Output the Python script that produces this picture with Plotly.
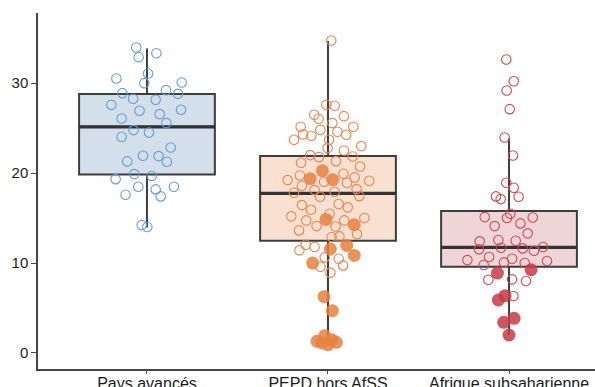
import plotly.graph_objects as go

categories = ["Pays avancés", "PEPD hors AfSS", "Afrique subsaharienne"]

# box statistics
q1 = [19.85, 12.48, 9.6]
median = [25.15, 17.74, 11.74]
q3 = [28.8, 21.9, 15.8]
lowerfence = [13.96, 1.07, 2.0]
upperfence = [33.85, 34.7, 23.85]

# hollow points (values) and their horizontal jitter (category units)
pa_vals = [33.96, 33.33, 32.89, 31.07, 30.52, 30.0, 30.07, 29.22, 28.89, 28.81, 28.26, 28.15,
           27.59, 26.93, 27.04, 26.56, 26.07, 25.56, 24.78, 24.52, 24.04, 22.85, 21.93, 21.89,
           21.3, 21.26, 19.89, 19.67, 19.33, 18.48, 18.48, 18.19, 17.59, 17.41, 14.22, 14.0]
pa_jit = [-0.059, 0.052, -0.046, 0.006, -0.169, -0.015, 0.192, 0.105, -0.136, 0.171, -0.077, 0.048,
          -0.197, -0.041, 0.188, 0.07, -0.14, 0.107, -0.074, 0.011, -0.14, 0.131, -0.022, 0.064,
          -0.109, 0.11, -0.07, 0.026, -0.173, -0.048, 0.149, 0.048, -0.118, 0.076, -0.029, 0.002]

pe_vals = [34.74, 27.59, 27.48, 26.48, 26.04, 26.33, 25.56, 25.15, 25.15, 24.81, 24.59, 24.30,
           24.15, 24.26, 23.70, 23.70, 22.78, 23.0, 22.52, 22.0, 21.78, 21.85, 21.15, 21.33,
           20.74, 19.74, 19.93, 19.22, 18.59, 19.04, 18.93, 19.52, 19.15, 18.22, 17.81, 18.11,
           17.93, 17.37, 17.44, 16.44, 16.56, 15.93, 16.19, 15.48, 15.19, 14.74, 14.74, 15.0,
           14.11, 14.07, 13.63, 13.22, 12.96, 12.89, 12.04, 11.41, 11.78, 10.63, 10.48, 9.59,
           9.74, 8.93]
pe_jit = [0.018, -0.009, 0.037, -0.076, -0.052, 0.088, 0.024, -0.151, 0.140, -0.042, 0.052, -0.138,
          -0.092, 0.101, -0.188, 0.006, -0.002, 0.184, 0.088, -0.098, -0.050, 0.136, -0.149, 0.044,
          0.177, -0.155, 0.085, -0.223, -0.144, -0.022, 0.105, 0.147, 0.228, 0.158, -0.188, -0.074,
          0.037, -0.044, 0.173, -0.144, 0.059, -0.094, 0.109, 0.009, -0.203, -0.12, 0.09, 0.201,
          -0.063, 0.042, -0.160, 0.160, 0.063, 0.020, -0.123, -0.158, -0.074, -0.018, 0.059, -0.042,
          0.083, 0.013]

af_vals = [32.63, 30.22, 29.19, 27.11, 23.96, 21.96, 18.93, 18.37, 17.41, 17.11, 17.37, 15.48,
           15.11, 15.0, 15.07, 14.41, 14.11, 13.30, 12.41, 12.56, 12.48, 11.52, 11.70, 11.63,
           11.37, 11.78, 10.67, 10.48, 10.33, 10.07, 10.22, 9.78, 10.0, 8.15, 8.19, 8.0, 6.33]
af_jit = [-0.015, 0.026, -0.013, 0.004, -0.024, 0.022, -0.015, 0.026, -0.072, -0.046, 0.053, 0.007,
          -0.134, -0.011, 0.131, 0.063, -0.079, 0.103, -0.162, -0.059, 0.037, -0.166, -0.044, 0.076,
          0.138, 0.188, -0.11, 0.017, -0.230, -0.028, 0.21, -0.140, 0.087, -0.114, 0.017, 0.094, 0.024]

# highlighted (filled) points
pe_hl_vals = [20.26, 19.37, 19.26, 14.85, 14.26, 11.56, 11.96, 10.85, 10.0, 6.26, 4.70,
              1.93, 1.30, 1.11, 0.93, 1.19, 1.48]
pe_hl_jit = [-0.031, -0.098, 0.026, -0.011, 0.145, 0.013, 0.103, 0.145, -0.085, -0.022, 0.024,
             -0.018, -0.061, -0.033, 0.0, 0.046, 0.022]
af_hl_vals = [8.89, 9.26, 6.37, 5.89, 3.85, 3.41, 2.0]
af_hl_jit = [-0.064, 0.122, -0.022, -0.059, 0.028, -0.029, 0.0]

box_fill = ["#d4dfec", "#f9e0d1", "#f0d5d8"]
point_col = ["#6a9bd0", "#ea8450", "#cc4a52"]
fill_col = ["#e8803f", "#e8803f", "#c63a45"]

hollow = [(pa_vals, pa_jit), (pe_vals, pe_jit), (af_vals, af_jit)]
filled = [([], []), (pe_hl_vals, pe_hl_jit), (af_hl_vals, af_hl_jit)]

fig = go.Figure()
for i in range(3):
    fig.add_trace(go.Box(
        x=[i], q1=[q1[i]], median=[median[i]], q3=[q3[i]],
        lowerfence=[lowerfence[i]], upperfence=[upperfence[i]],
        width=0.75, whiskerwidth=0, fillcolor=box_fill[i],
        line=dict(color="#3d3d3d", width=2), boxpoints=False,
        showlegend=False, hoverinfo="skip"))
    fig.add_trace(go.Box(
        x=[i], q1=[median[i]], median=[median[i]], q3=[median[i]],
        lowerfence=[median[i]], upperfence=[median[i]],
        width=0.75, whiskerwidth=0, fillcolor="rgba(0,0,0,0)",
        line=dict(color="#333333", width=3.2), boxpoints=False,
        showlegend=False, hoverinfo="skip"))
for i in range(3):
    vals, jit = hollow[i]
    fig.add_trace(go.Scatter(
        x=[i + j for j in jit], y=vals, mode="markers",
        marker=dict(symbol="circle-open", size=9.5, color=point_col[i], line=dict(width=1.1)),
        showlegend=False))
    hv, hj = filled[i]
    if hv:
        fig.add_trace(go.Scatter(
            x=[i + j for j in hj], y=hv, mode="markers",
            marker=dict(symbol="circle", size=13, color=fill_col[i], opacity=0.85,
                        line=dict(width=0)),
            showlegend=False))

fig.update_layout(
    width=595, height=387,
    margin=dict(l=38, r=0, t=13, b=18, autoexpand=False),
    paper_bgcolor="white", plot_bgcolor="white",
    font=dict(family="Liberation Sans, Arial, sans-serif", size=15, color="#1a1a1a"),
    xaxis=dict(range=[-0.602, 2.475], tickvals=[0, 1, 2], ticktext=categories, automargin=False,
               tickfont=dict(size=16), ticklabelstandoff=-4,
               showgrid=False, zeroline=False, showline=True, linecolor="#444444", linewidth=1.5,
               ticks="outside", ticklen=3, tickcolor="#444444", tickwidth=1.2),
    yaxis=dict(range=[-1.78, 37.8], tickvals=[0, 10, 20, 30], automargin=False,
               showgrid=False, zeroline=False, showline=True, linecolor="#444444", linewidth=1.5,
               ticks="outside", ticklen=5, tickcolor="#444444", tickwidth=1.2),
)

fig.write_html("out.html")
